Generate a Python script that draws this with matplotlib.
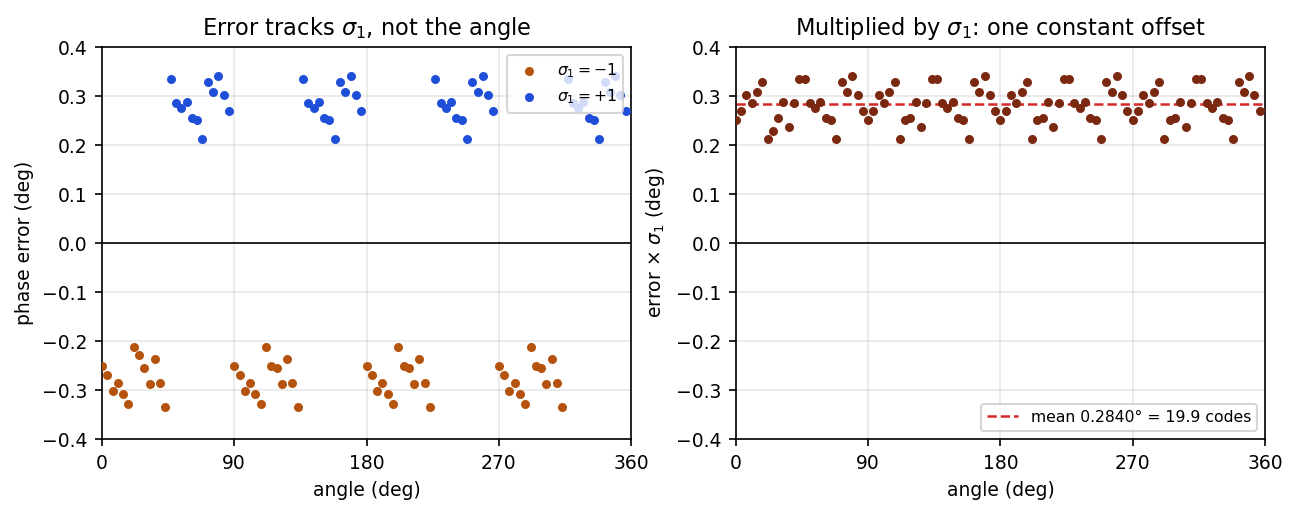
import matplotlib.pyplot as plt
import numpy as np

plt.rcParams["font.size"] = 9

# angles: 100 samples over one turn
angle = np.arange(100) * 3.6

# |error| in degrees, one 90-deg block after another
block_a = [0.251, 0.269, 0.303, 0.285, 0.308, 0.328, 0.212, 0.229, 0.256, 0.287,
           0.236, 0.285, 0.335, 0.335, 0.286, 0.275, 0.287, 0.256, 0.252, 0.212,
           0.328, 0.308, 0.340, 0.303, 0.269]
block_b = [0.251, 0.269, 0.303, 0.285, 0.308, 0.328, 0.212, 0.252, 0.256, 0.287,
           0.236, 0.285, 0.335, 0.335, 0.286, 0.275, 0.287, 0.256, 0.252, 0.212,
           0.328, 0.308, 0.340, 0.303, 0.269]
offset = np.array(block_a + block_b + block_b + block_b)

# sigma_1 flips every 45 deg
sigma1 = np.where((angle % 90) < 45, -1, 1)
phase_err = offset * sigma1

mean_deg = 0.2840
mean_codes = 19.9

fig, (ax1, ax2) = plt.subplots(1, 2, figsize=(1297 / 150, 516 / 150), dpi=150)
fig.subplots_adjust(left=0.0786, right=0.9753, bottom=0.1492, top=0.9089, wspace=0.198)

neg = sigma1 == -1
ax1.scatter(angle[neg], phase_err[neg], s=11, color="#b5520e", label=r"$\sigma_1=-1$", zorder=3)
ax1.scatter(angle[~neg], phase_err[~neg], s=11, color="#1f4fd8", label=r"$\sigma_1=+1$", zorder=3)
ax1.axhline(0, color="black", lw=0.8)
ax1.set_title(r"Error tracks $\sigma_1$, not the angle")
ax1.set_xlabel("angle (deg)")
ax1.set_ylabel("phase error (deg)")
ax1.legend(loc="upper right", fontsize="small")

ax2.scatter(angle, phase_err * sigma1, s=11, color="#7a2810", zorder=3)
ax2.axhline(mean_deg, color="#d62728", ls="--", lw=1.2,
            label=f"mean {mean_deg:.4f}° = {mean_codes:.1f} codes")
ax2.axhline(0, color="black", lw=0.8)
ax2.set_title(r"Multiplied by $\sigma_1$: one constant offset")
ax2.set_xlabel("angle (deg)")
ax2.set_ylabel(r"error $\times$ $\sigma_1$ (deg)")
ax2.legend(loc="lower right", fontsize="small")

for ax in (ax1, ax2):
    ax.set_xlim(0, 360)
    ax.set_ylim(-0.4, 0.4)
    ax.set_xticks([0, 90, 180, 270, 360])
    ax.grid(True, alpha=0.3)

fig.savefig("out.png", dpi=150)
